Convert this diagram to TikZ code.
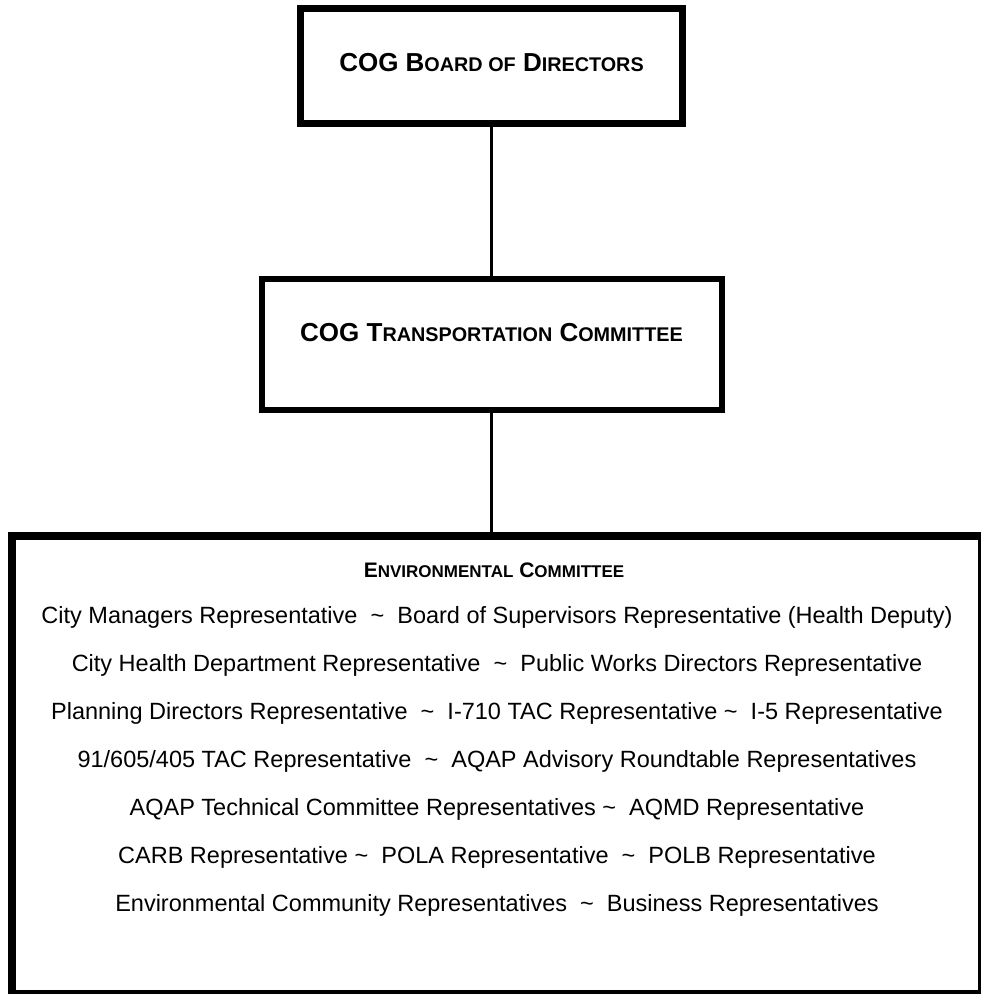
\documentclass[tikz,border=0pt]{standalone}
\usepackage{fontspec}
\setmainfont{Liberation Sans}

\newcommand{\capsm}[1]{{\fontsize{19.8}{19.8}\selectfont #1}}
\newcommand{\capsmb}[1]{{\fontsize{17}{17}\selectfont #1}}
\newcommand{\tl}{\textasciitilde}

\begin{document}
\begin{tikzpicture}[x=1pt,y=-1pt,
	orgbox/.style={draw,rectangle,inner sep=0pt},
	conn/.style={line width=3pt},
	title/.style={font=\bfseries\fontsize{26}{26}\selectfont},
	entry/.style={font=\fontsize{23.5}{23.5}\selectfont}]
	\useasboundingbox (0,0) rectangle (981,994);
	
	%boxes
	\node[orgbox, line width=7pt, minimum width=382pt, minimum height=115pt] (board) at (491.5,66){};
	\node[orgbox, line width=6pt, minimum width=460pt, minimum height=131pt] (transp) at (491.5,344){};
	\node[orgbox, line width=8pt, minimum width=970pt, minimum height=458pt] (env) at (497,765){};
	
	%titles
	\node[title] (boardtxt) at (491.5,63){COG B\capsm{OARD OF} D\capsm{IRECTORS}};
	\node[title] (transptxt) at (491.5,333){COG T\capsm{RANSPORTATION} C\capsm{OMMITTEE}};
	\node[title, font=\bfseries\fontsize{21}{21}\selectfont] (envtxt) at (494,570){E\capsmb{NVIRONMENTAL} C\capsmb{OMMITTEE}};
	
	%links
	\draw[conn] (board.south) -- (transp.north);
	\draw[conn] (transp.south) -- (transp.south |- env.north);
	
	%members
	\foreach \txt [count=\i] in {
		City Managers Representative \ \tl\ \ Board of Supervisors Representative (Health Deputy),
		City Health Department Representative \ \tl\ \ Public Works Directors Representative,
		Planning Directors Representative \ \tl\ \ I-710 TAC Representative \tl\ \ I-5 Representative,
		91/605/405 TAC Representative \ \tl\ \ AQAP Advisory Roundtable Representatives,
		AQAP Technical Committee Representatives \tl\ \ AQMD Representative,
		CARB Representative \tl\ \ POLA Representative \ \tl\ \ POLB Representative,
		Environmental Community Representatives \ \tl\ \ Business Representatives}{
		\node[entry] (member\i) at (497, 569+48*\i){\txt};
	}
\end{tikzpicture}
\end{document}
